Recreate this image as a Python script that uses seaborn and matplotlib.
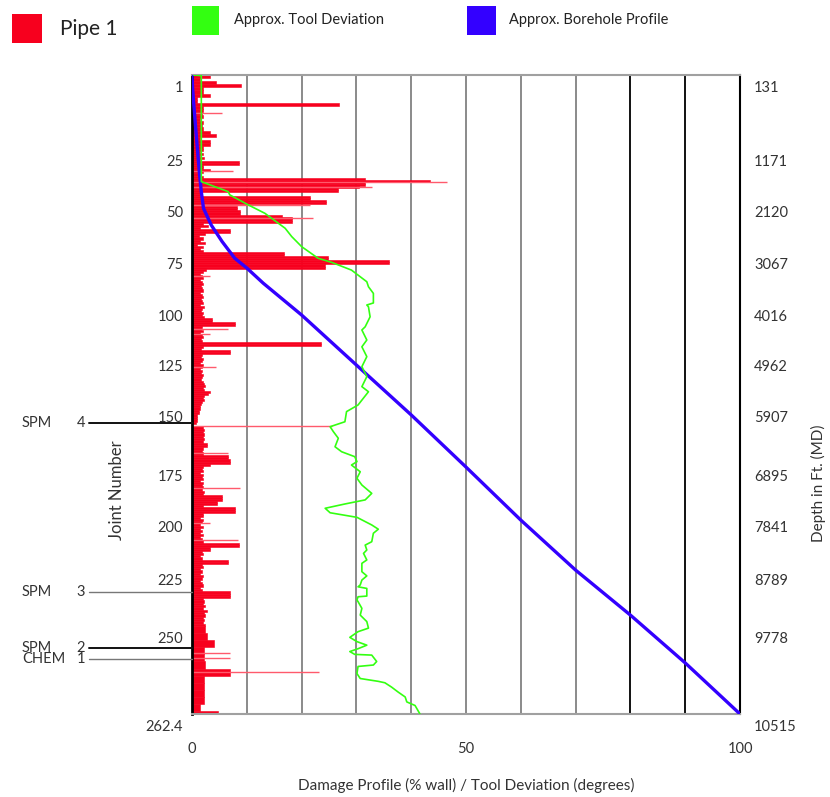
import numpy as np
import pandas as pd
import seaborn as sns
import matplotlib
matplotlib.use("Agg")
import matplotlib.pyplot as plt
import matplotlib.transforms as mtransforms
from matplotlib.patches import Rectangle

# ---------------- data ----------------
joint_ticks = [1, 25, 50, 75, 100, 125, 150, 175, 200, 225, 250, 262.4]
joint_tick_labels = ["1", "25", "50", "75", "100", "125", "150", "175", "200", "225", "250", "262.4"]
depth_labels = ["131", "1171", "2120", "3067", "4016", "4962", "5907", "6895", "7841", "8789", "9778", "10515"]

# damage profile (% wall), one value per joint 1..262
damage = [
    3.3, 1.5, 4.4, 8.9, 2.0, 2.0, 3.3, 1.0, 1.0, 26.8,
    2.0, 2.0, 1.8, 2.0, 1.5, 2.0, 1.8, 2.0, 3.3, 4.4,
    1.5, 3.3, 3.3, 2.0, 2.0, 1.5, 2.0, 1.5, 2.2, 1.5,
    8.6, 8.6, 2.0, 2.0, 3.3, 2.0, 1.5, 2.0, 31.6, 43.4,
    31.6, 31.6, 30.4, 26.7, 26.7, 1.5, 1.4, 21.5, 21.5, 24.5,
    24.5, 2.0, 8.2, 8.2, 8.8, 8.8, 16.4, 18.2, 18.2, 18.2,
    2.0, 3.0, 1.5, 7.0, 7.0, 2.4, 1.2, 2.0, 1.5, 2.4,
    1.0, 2.0, 1.5, 2.0, 16.7, 16.7, 24.9, 24.9, 36.0, 36.0,
    24.3, 24.3, 2.5, 2.0, 1.5, 1.8, 2.0, 1.5, 1.8, 2.0,
    1.6, 1.8, 2.0, 1.5, 1.8, 2.0, 1.6, 1.8, 2.0, 1.5,
    2.2, 1.8, 1.6, 2.0, 1.8, 2.2, 3.6, 3.6, 7.8, 7.8,
    1.8, 1.6, 2.0, 1.5, 1.8, 2.0, 1.6, 1.8, 23.5, 23.5,
    2.0, 1.6, 6.9, 6.9, 1.8, 1.6, 2.0, 1.8, 1.5, 2.0,
    1.8, 1.5, 1.8, 1.6, 2.0, 1.8, 1.6, 2.0, 2.2, 2.4,
    2.0, 2.2, 3.3, 3.0, 2.2, 2.0, 2.2, 1.8, 1.6, 1.5,
    1.4, 1.2, 1.2, 1.0, 1.0, 1.0, 0.8, 0.0, 2.0, 2.2,
    2.0, 2.2, 2.0, 2.2, 2.0, 2.7, 2.7, 2.0, 1.8, 2.0,
    6.6, 6.6, 6.9, 6.9, 3.3, 2.0, 1.8, 2.0, 1.5, 2.0,
    1.8, 2.0, 1.5, 2.0, 1.8, 2.0, 1.8, 2.2, 2.0, 5.4,
    5.4, 5.4, 4.5, 4.5, 2.0, 7.8, 7.8, 7.8, 2.0, 2.0,
    1.5, 2.0, 1.8, 1.5, 2.0, 1.5, 1.8, 1.5, 2.0, 1.5,
    1.8, 2.0, 8.5, 8.5, 3.3, 3.3, 1.8, 2.0, 1.5, 1.8,
    6.5, 6.5, 1.8, 2.0, 1.5, 1.8, 1.5, 2.0, 1.8, 1.5,
    1.8, 2.0, 1.5, 1.8, 6.9, 6.9, 6.9, 2.0, 2.2, 2.0,
    2.4, 2.0, 2.7, 2.2, 2.4, 2.0, 2.2, 2.0, 2.4, 2.4,
    2.7, 4.0, 2.1, 2.2, 2.3, 6.9, 2.2, 2.2, 2.2, 2.2, 1.5, 4.8,
]
joints = np.arange(1, len(damage) + 1)

# thin (isolated) damage indications
thin_joint = [13.3, 35.8, 41.3, 43.6, 52.4, 58.5, 86.3, 112.5, 115.2, 131.6,
              158.8, 170.5, 186.8, 203.8, 211.8, 253.8, 254.5, 256.5]
thin_value = [5.4, 7.5, 46.5, 32.8, 21.5, 22.1, 3.3, 6.5, 3.3, 4.4,
              25.5, 6.6, 8.8, 3.3, 8.4, 6.9, 6.9, 23.1]

# approx. tool deviation (degrees)
dev_joint = [1, 1.2, 41.0, 45.9, 47.5, 52.4, 56.4, 63.6, 67.6, 72.4, 78.0, 80.0, 83.7, 86.1,
             89.3, 91.7, 94.9, 99.5, 100.5, 101.4, 106.4, 111.4, 113, 118, 121.4, 126.3,
             131.2, 136.1, 141, 143.5, 150, 152.8, 157.1, 159.2, 161.3, 164.1, 167.7,
             169.8, 171.9, 174.0, 175.5, 178.8, 182.0, 185.3, 189.4, 192.6, 194.6, 196.7,
             198.9, 201.1, 204.7, 206.7, 208.6, 212.6, 214.2, 216.5, 218.1, 221.2, 222.8,
             226.6, 228.4, 230.2, 232.3, 233.1, 233.8, 237.1, 237.4, 238.8, 239.5, 242.4,
             245.3, 248.1, 250.3, 250.8, 251.6, 252.2, 252.7, 253.2, 253.6, 254.0, 254.1,
             255.0, 255.5, 255.7, 256.7, 257.4, 257.8, 258.0, 258.6, 259.3, 260.0, 260.7,
             261.2, 262.4]
dev_value = [0.3, 1.7, 1.7, 6.6, 6.9, 10.3, 13.3, 17.0, 18.2, 20.0, 23.0, 25.5, 29.1, 30.3,
             31.9, 32.2, 33.1, 33.1, 31.9, 32.2, 32.5, 31.6, 31.0, 31.9, 31.0, 31.9,
             31.0, 31.9, 31.0, 32.2, 30.3, 28.2, 27.9, 25.2, 25.8, 26.7, 26.1,
             27.3, 29.7, 30.1, 29.1, 30.7, 30.1, 31.0, 32.8, 31.6, 27.9, 24.3,
             25.2, 30.1, 32.8, 34.0, 33.1, 32.8, 31.6, 31.9, 31.3, 31.9, 31.0,
             31.0, 31.9, 31.0, 30.7, 30.3, 31.9, 31.9, 30.3, 30.1, 30.3, 31.0,
             30.7, 31.9, 32.2, 30.3, 28.8, 30.1, 31.9, 30.3, 28.8, 29.7, 32.8,
             33.7, 33.1, 30.3, 30.1, 30.7, 34.0, 35.2, 36.4, 37.6, 38.9, 39.2,
             40.7, 41.6]

# approx. borehole profile (relative, 0-100)
bore_joint = [1, 5, 10, 21, 32, 38, 46, 54, 62, 70, 78, 82.7, 90, 105.5, 130.4,
              154.2, 176.5, 202.4, 225.9, 245.3, 255.2, 262.4]
bore_value = [0.0, 0.1, 0.3, 0.8, 1.2, 1.4, 1.7, 2.1, 3.5, 5.5, 7.8, 10, 13, 20, 30,
              40, 50, 60, 70, 80, 90, 100]

# markers
marker_names = ["SPM", "SPM", "SPM", "CHEM"]
marker_nums = ["4", "3", "2", "1"]
marker_joint = [157.6, 235.3, 253.1, 254.65]

x_ticks = [0, 50, 100]
grid_vals = [10, 20, 30, 40, 50, 60, 70, 80, 90]

# ---------------- style ----------------
sns.set_style("white")
plt.rcParams["font.family"] = ["Lato", "DejaVu Sans"]
TXT = "#333333"
RED = "#f7001e"
GREEN = "#33ff11"
BLUE = "#3300ff"

W, H = 830, 797
fig = plt.figure(figsize=(W / 100, H / 100), dpi=100)
ax = fig.add_axes([192 / W, 1 - 714 / H, 548 / W, 639 / H])

# non-uniform joint scale of the log (piecewise linear between labelled joints)
scale_px = [0, 74, 125, 177, 229, 279, 330, 389, 440, 493, 551, 639]


def _pw(x, xp, fp):
    x = np.asarray(x, dtype=float)
    xp = np.asarray(xp, dtype=float)
    fp = np.asarray(fp, dtype=float)
    y = np.interp(x, xp, fp)
    lo_s = (fp[1] - fp[0]) / (xp[1] - xp[0])
    hi_s = (fp[-1] - fp[-2]) / (xp[-1] - xp[-2])
    y = np.where(x < xp[0], fp[0] + (x - xp[0]) * lo_s, y)
    y = np.where(x > xp[-1], fp[-1] + (x - xp[-1]) * hi_s, y)
    return y


for v in grid_vals:
    ax.axvline(v, color="#111111" if v >= 80 else "#8a8a8a", lw=1.4, zorder=0.5)

ax.barh(joints, damage, height=1.0, align="edge", color=RED,
        edgecolor=RED, linewidth=0.4, zorder=2)
ax.hlines(thin_joint, 0, thin_value, colors="#ff5a6c", lw=1.0, zorder=2)

bore_df = pd.DataFrame({"joint": bore_joint, "profile": bore_value})
dev_df = pd.DataFrame({"joint": dev_joint, "deviation": dev_value})
sns.lineplot(data=bore_df, x="profile", y="joint", sort=False, estimator=None,
             color=BLUE, lw=2.4, ax=ax, zorder=3)
sns.lineplot(data=dev_df, x="deviation", y="joint", sort=False, estimator=None,
             color=GREEN, lw=1.2, ax=ax, zorder=4)

ax.set_yscale("function", functions=(lambda j: _pw(j, joint_ticks, scale_px),
                                     lambda p: _pw(p, scale_px, joint_ticks)))
ax.set_ylim(262.4, 1)
ax.set_xlim(0, 100)
ax.set_xlabel("")
ax.set_ylabel("")
ax.set_yticks([])
ax.set_xticks(x_ticks, [str(t) for t in x_ticks])
ax.tick_params(axis="x", length=0, pad=20, labelsize=10.5, labelcolor=TXT)

for side, col, lw in [("left", "black", 2.0), ("right", "black", 1.5),
                      ("top", "#a0a0a0", 1.5), ("bottom", "#a0a0a0", 1.5)]:
    ax.spines[side].set_visible(True)
    ax.spines[side].set_color(col)
    ax.spines[side].set_linewidth(lw)

# tick labels (joint number left, depth right), drawn just below their joint
blend = mtransforms.blended_transform_factory(ax.transAxes, ax.transData)
lab_tr = mtransforms.offset_copy(blend, fig=fig, x=0, y=-13, units="dots")
for j, jl, dl in zip(joint_ticks, joint_tick_labels, depth_labels):
    ax.text(-9 / 548, j, jl, transform=lab_tr, ha="right", va="center",
            fontsize=10.5, color=TXT)
    ax.text(1 + 14 / 548, j, dl, transform=lab_tr, ha="left", va="center",
            fontsize=10.5, color=TXT)

# SPM / CHEM markers
for name, num, j in zip(marker_names, marker_nums, marker_joint):
    dark = name == "SPM" and num in ("4", "2")
    ax.plot([-103 / 548, 0], [j, j], transform=blend, clip_on=False,
            color="#111111" if dark else "#777777", lw=1.4 if dark else 1.0, zorder=5)
    ax.text(-170 / 548, j, name, transform=blend, ha="left", va="center",
            fontsize=10.5, color=TXT)
    ax.text(-107 / 548, j, num, transform=blend, ha="right", va="center",
            fontsize=10.5, color=TXT)

# axis titles
fig.text(466 / W, 1 - 785 / H, "Damage Profile (% wall) / Tool Deviation (degrees)",
         ha="center", va="center", fontsize=11, color=TXT)
fig.text(117 / W, 1 - 490 / H, "Joint Number", rotation=90, ha="center", va="center",
         fontsize=12, color=TXT)
fig.text(818 / W, 1 - 483 / H, "Depth in Ft. (MD)", rotation=90, ha="center", va="center",
         fontsize=11, color=TXT)

# legend
fig.add_artist(Rectangle((12 / W, 1 - 43 / H), 30 / W, 29 / H, transform=fig.transFigure,
                         color=RED, lw=0))
fig.text(60 / W, 1 - 29 / H, "Pipe 1", ha="left", va="center", fontsize=15, color="#222222")
fig.add_artist(Rectangle((192 / W, 1 - 35 / H), 27 / W, 29 / H, transform=fig.transFigure,
                         color=GREEN, lw=0))
fig.text(234 / W, 1 - 20 / H, "Approx. Tool Deviation", ha="left", va="center",
         fontsize=10.5, color="#222222")
fig.add_artist(Rectangle((467 / W, 1 - 35 / H), 29 / W, 29 / H, transform=fig.transFigure,
                         color=BLUE, lw=0))
fig.text(509 / W, 1 - 20 / H, "Approx. Borehole Profile", ha="left", va="center",
         fontsize=10.5, color="#222222")

fig.savefig("out.png", dpi=100)
